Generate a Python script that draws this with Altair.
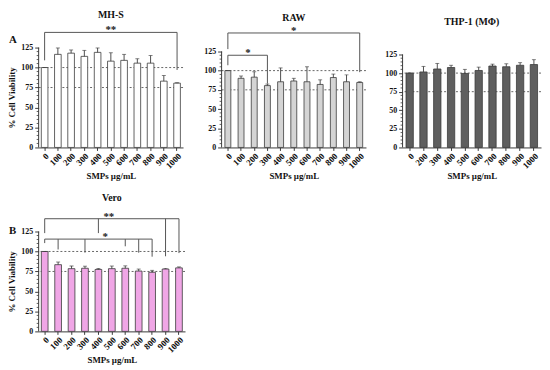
import altair as alt
import pandas as pd

# ---------------- data ----------------
conc_11 = ["0", "100", "200", "300", "400", "500", "600", "700", "800", "900", "1000"]
conc_thp = ["0", "200", "300", "400", "500", "600", "700", "800", "900", "1000"]

mhs_mean = [100, 116.5, 118, 114, 119, 108, 109, 105.5, 105.5, 83, 80.5]
mhs_err = [0, 8, 4, 7.5, 5.5, 10.5, 7.5, 5.5, 9.5, 7, 0.5]

raw_mean = [100, 90, 91.5, 80.5, 85.5, 86.5, 85.5, 82, 91, 85.5, 84.5]
raw_err = [0, 3, 7, 2, 18, 3.5, 19.5, 6, 4.5, 9, 1]

thp_mean = [100, 101.5, 105.5, 107.5, 99.5, 103.5, 109.5, 108.5, 110.5, 111.5]
thp_err = [0, 7.5, 7.5, 3, 5.5, 4.5, 2.5, 4, 3.5, 6.5]

vero_mean = [100, 83.5, 78.5, 79, 77.5, 78.5, 79, 75.5, 74, 78, 79.5]
vero_err = [0, 3.3, 3.3, 2.6, 1.2, 3.3, 3, 2.5, 2.4, 0.8, 1.2]

ref_lines = [100, 75]
y_major = [0, 25, 50, 75, 100, 125]
y_minor = [5, 10, 15, 20, 30, 35, 40, 45, 55, 60, 65, 70, 80, 85, 90, 95,
           105, 110, 115, 120]

# significance brackets
mhs_h = [("0", "1000", 144)]
mhs_v = [("0", 109, 144), ("1000", 97, 144)]
mhs_stars = [("500", 144, "**", 0)]

raw_h = [("0", "1000", 149), ("0", "300", 120)]
raw_v = [("0", 128, 149), ("1000", 98, 149), ("0", 107, 120), ("300", 83, 120)]
raw_stars = [("500", 149, "*", 0), ("100", 120, "*", 7)]

vero_h = [("0", "1000", 141), ("0", "800", 115.5)]
vero_v = [("0", 123, 141), ("400", 123, 141), ("900", 94, 141), ("1000", 98, 141),
          ("0", 110.5, 115.5), ("100", 102.5, 115.5), ("300", 98.5, 115.5),
          ("600", 106.5, 115.5), ("700", 98.5, 115.5), ("800", 93.5, 115.5)]
vero_stars = [("500", 141, "**", -3), ("400", 115.5, "*", 7)]

FONT = "Liberation Serif"
AX = "#3a3a3a"


def panel(title, title_y, cats, means, errs, fill, ymax, width, height, ytitle,
          hsegs=(), vsegs=(), stars=(), letter=None, letter_y=None,
          pad_in=0.5, pad_out=0.2):
    df = pd.DataFrame({"c": cats, "v": means,
                       "hi": [m + e for m, e in zip(means, errs)]})
    xs = alt.Scale(domain=cats, paddingInner=pad_in, paddingOuter=pad_out)
    ys = alt.Scale(domain=[0, ymax], nice=False, zero=True)
    x_axis = alt.Axis(labelAngle=-45, tickSize=3, labelPadding=1, titlePadding=1,
                      labelFontSize=9)
    y_axis = alt.Axis(values=y_major, domain=False, labelOverlap=False, tickSize=4,
                      labelPadding=2, titlePadding=4, labelFlush=False, labelBound=False)
    xt = "SMPs µg/mL"
    yt = ytitle if ytitle else None

    def X(f):
        return alt.X(f, scale=xs, axis=x_axis, title=xt)

    def Y(f):
        return alt.Y(f, scale=ys, axis=y_axis, title=yt)

    base = alt.Chart(df)
    bars = base.mark_bar(fill=fill, stroke=AX, strokeWidth=0.8).encode(x=X("c:N"), y=Y("v:Q"))
    err = base.mark_rule(color=AX, strokeWidth=0.9).encode(
        x=X("c:N"), y=Y("v:Q"), y2=alt.Y2("hi"))
    cap = base.mark_tick(color=AX, size=4, thickness=0.9).encode(
        x=X("c:N"), y=Y("hi:Q"))
    refs = alt.Chart(pd.DataFrame({"r": ref_lines})).mark_rule(
        color="#555555", strokeDash=[2, 2], strokeWidth=0.9).encode(y=Y("r:Q"))
    yline = alt.Chart(pd.DataFrame({"a": [0], "b": [125]})).mark_rule(
        color=AX, strokeWidth=1).encode(x=alt.value(0), y=Y("a:Q"), y2=alt.Y2("b"))
    minor = alt.Chart(pd.DataFrame({"m": y_minor})).mark_rule(
        color=AX, strokeWidth=0.8).encode(x=alt.value(-2), x2=alt.value(0), y=Y("m:Q"))
    ttl = alt.Chart(pd.DataFrame({"t": [title], "y": [title_y]})).mark_text(
        font=FONT, fontSize=10, fontWeight="bold", color="#111111",
        baseline="middle", align="center").encode(
        x=alt.value(width / 2), y=Y("y:Q"), text="t:N")
    layers = [refs, bars, err, cap, yline, minor, ttl]

    if hsegs:
        hdf = pd.DataFrame(hsegs, columns=["c", "c2", "y"])
        layers.append(alt.Chart(hdf).mark_rule(color="#555555", strokeWidth=1).encode(
            x=X("c:N"), x2=alt.X2("c2"), y=Y("y:Q")))
    if vsegs:
        vdf = pd.DataFrame(vsegs, columns=["c", "y", "y2"])
        layers.append(alt.Chart(vdf).mark_rule(color="#555555", strokeWidth=1).encode(
            x=X("c:N"), y=Y("y:Q"), y2=alt.Y2("y2")))
    for (c, yv, txt, dx) in stars:
        sdf = pd.DataFrame({"c": [c], "y": [yv], "t": [txt]})
        layers.append(alt.Chart(sdf).mark_text(
            font=FONT, fontWeight="bold", fontSize=11, baseline="alphabetic",
            dx=dx, dy=1, color="#222222").encode(
            x=X("c:N"), y=Y("y:Q"), text="t:N"))
    if letter:
        ldf = pd.DataFrame({"t": [letter], "y": [letter_y]})
        layers.append(alt.Chart(ldf).mark_text(
            font=FONT, fontWeight="bold", fontSize=11, align="left",
            baseline="middle", color="#111111").encode(
            x=alt.value(-30), y=Y("y:Q"), text="t:N"))

    return alt.layer(*layers).properties(width=width, height=height)


mhs = panel("MH-S", 165.8, conc_11, mhs_mean, mhs_err, "#ffffff", 125, 146, 101,
            "% Cell Viability", mhs_h, mhs_v, mhs_stars, "A", 135)
raw = panel("RAW", 168.6, conc_11, raw_mean, raw_err, "#d4d4d4", 130, 146, 101,
            None, raw_h, raw_v, raw_stars, pad_in=0.55, pad_out=0.25)
thp = panel("THP-1 (MΦ)", 168.9, conc_thp, thp_mean, thp_err, "#5f5f5f", 134.3, 140, 101,
            None, pad_in=0.47, pad_out=0.25)
vero = panel("Vero", 167, conc_11, vero_mean, vero_err, "#f0a6e6", 125, 148, 101,
             "% Cell Viability", vero_h, vero_v, vero_stars, "B", 126)

chart = alt.concat(mhs, raw, thp, vero, columns=3,
                   spacing={"row": 85, "column": 37}, bounds="flush", align="each"
                   ).properties(padding={"left": 0, "top": 0, "right": 0, "bottom": 0}
                   ).configure_view(stroke=None
                   ).configure_axis(labelFont=FONT, labelFontWeight="bold", labelFontSize=8,
                                    labelColor="#111111", titleFont=FONT,
                                    titleFontWeight="bold", titleFontSize=9,
                                    titleColor="#111111", domainColor=AX, tickColor=AX,
                                    grid=False, labelOverlap=False)

chart.save("out.html", embed_options={"renderer": "svg", "actions": False})
